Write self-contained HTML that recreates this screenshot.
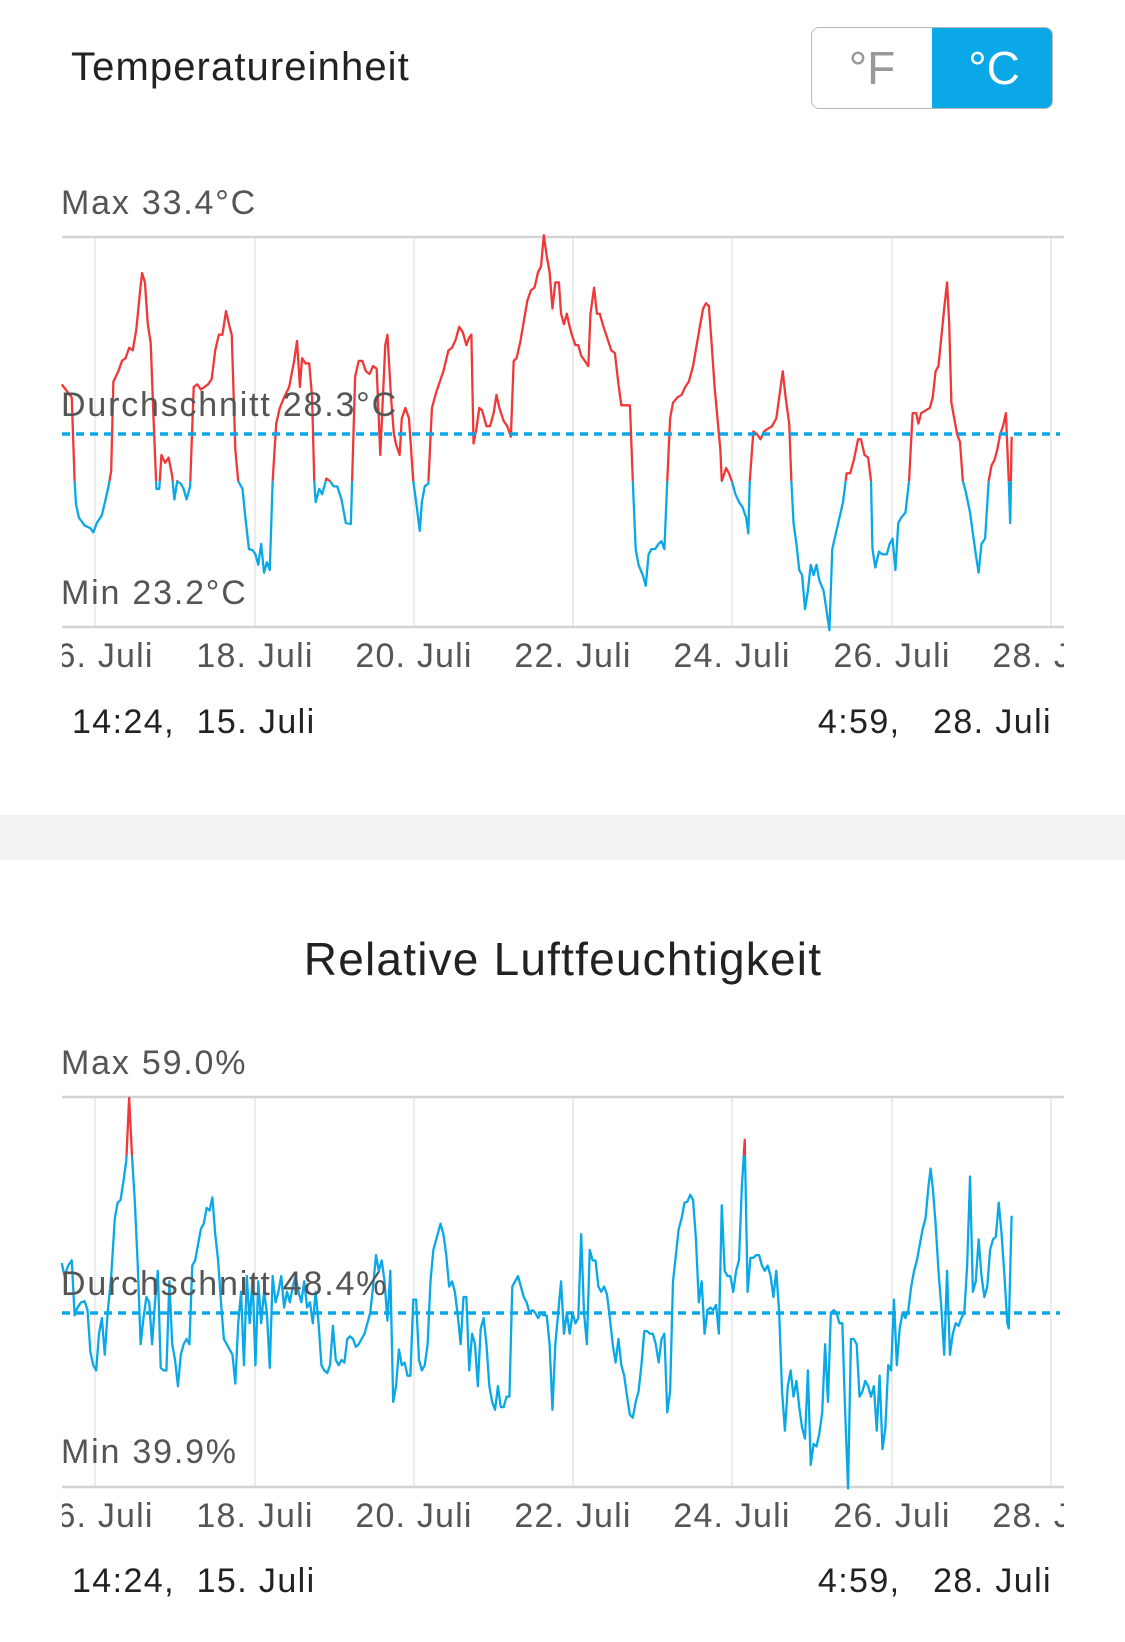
<!DOCTYPE html>
<html><head><meta charset="utf-8"><style>
body{margin:0;width:1125px;height:1642px;background:#fff;position:relative;overflow:hidden;font-family:"Liberation Sans",sans-serif;}
.t{position:absolute;white-space:nowrap;line-height:1;}
.g{color:#555;font-size:34px;letter-spacing:1.8px;}
.d{color:#222;font-size:34px;letter-spacing:1.4px;}
.xl{position:absolute;left:62px;width:1002px;height:40px;overflow:hidden;}
.xl span{position:absolute;top:0;transform:translateX(-50%);color:#555;font-size:34px;letter-spacing:1.2px;white-space:nowrap;line-height:40px;}
svg{position:absolute;left:0;}
</style></head><body>
<div class="t" style="left:71px;top:47px;font-size:40px;letter-spacing:1.1px;color:#222;">Temperatureinheit</div>
<div style="position:absolute;left:811px;top:27px;width:242px;height:82px;border:1px solid #bbb;border-radius:8px;overflow:hidden;box-sizing:border-box;">
<div style="position:absolute;left:0;top:0;width:120px;height:80px;color:#999;font-size:46px;line-height:80px;text-align:center;">°F</div>
<div style="position:absolute;left:120px;top:-1px;width:124px;height:84px;background:#0aa8e6;color:#fff;font-size:46px;line-height:82px;text-align:center;">°C</div>
</div>

<svg width="1125" height="1642" viewBox="0 0 1125 1642" style="top:0">
<g stroke="#e6e6e6" stroke-width="1.5">
<line x1="95" y1="237" x2="95" y2="627"/><line x1="255" y1="237" x2="255" y2="627"/><line x1="414" y1="237" x2="414" y2="627"/><line x1="573" y1="237" x2="573" y2="627"/><line x1="732" y1="237" x2="732" y2="627"/><line x1="892" y1="237" x2="892" y2="627"/><line x1="1051" y1="237" x2="1051" y2="627"/>
<line x1="95" y1="1097" x2="95" y2="1487"/><line x1="255" y1="1097" x2="255" y2="1487"/><line x1="414" y1="1097" x2="414" y2="1487"/><line x1="573" y1="1097" x2="573" y2="1487"/><line x1="732" y1="1097" x2="732" y2="1487"/><line x1="892" y1="1097" x2="892" y2="1487"/><line x1="1051" y1="1097" x2="1051" y2="1487"/>
</g>
<g stroke="#d4d4d4" stroke-width="2.5">
<line x1="62" y1="237" x2="1064" y2="237"/><line x1="62" y1="627" x2="1064" y2="627"/>
<line x1="62" y1="1097" x2="1064" y2="1097"/><line x1="62" y1="1487" x2="1064" y2="1487"/>
</g>
<rect x="0" y="815" width="1125" height="45" fill="#f2f2f2"/>
</svg>

<svg width="1125" height="820" viewBox="0 0 1568 1568" preserveAspectRatio="none" style="top:0">
<defs><clipPath id="ta"><rect x="0" y="0" width="1568" height="920"/></clipPath><clipPath id="tb"><rect x="0" y="920" width="1568" height="700"/></clipPath></defs>
<polyline id="tp" fill="none" stroke-width="2.3" vector-effect="non-scaling-stroke" stroke-linejoin="round" points="86,735 100,760 104,920 106,965 110,990 118,1005 126,1010 130,1018 135,1000 142,985 148,950 152,925 155,900 158,730 165,710 170,690 175,685 180,665 185,670 190,630 195,560 198,522 202,540 206,620 210,655 214,800 218,935 222,935 225,870 230,885 235,875 240,910 243,955 247,920 252,925 256,935 260,955 265,930 270,740 275,735 280,745 285,740 290,735 295,725 300,670 305,640 310,640 315,595 320,625 323,640 328,860 332,920 338,935 342,990 347,1050 352,1052 356,1060 360,1080 364,1040 368,1095 372,1075 376,1090 380,920 385,810 390,780 396,760 403,740 410,690 414,652 418,740 421,685 426,695 431,695 435,760 438,920 440,960 445,935 449,945 455,915 460,920 465,930 470,930 476,955 482,1000 489,1002 495,720 500,690 505,690 510,710 515,715 520,700 525,705 530,870 533,780 537,660 540,640 545,760 549,830 552,850 557,870 560,800 565,780 570,800 576,920 580,960 585,1015 588,960 592,930 597,925 602,780 608,750 613,730 618,710 625,670 630,665 635,650 640,625 645,635 650,660 654,645 657,640 660,848 664,820 668,780 672,785 678,815 683,815 688,790 692,755 696,780 702,805 707,815 712,835 716,690 720,685 725,655 730,615 735,575 740,555 745,550 750,520 754,510 758,450 762,490 766,520 770,590 774,540 779,540 782,600 786,620 790,600 794,625 797,640 802,660 806,660 810,680 815,690 820,700 823,600 828,550 832,600 836,600 840,620 846,645 852,670 857,675 862,735 866,775 878,775 882,920 886,1050 890,1080 896,1100 900,1120 904,1060 908,1050 913,1050 918,1040 922,1035 926,1050 930,920 934,800 938,770 944,760 950,755 955,740 960,730 966,700 971,660 976,620 980,590 984,580 988,585 992,660 996,740 1000,800 1004,860 1006,920 1012,895 1016,905 1020,920 1025,945 1030,960 1035,970 1040,990 1043,1020 1045,920 1050,825 1055,830 1060,840 1065,825 1070,820 1076,815 1082,800 1087,750 1091,710 1095,760 1100,810 1103,920 1106,1000 1110,1040 1114,1090 1118,1100 1122,1165 1126,1130 1130,1080 1134,1100 1138,1080 1142,1110 1148,1130 1156,1205 1160,1050 1165,1020 1170,990 1175,960 1180,905 1185,905 1190,880 1196,840 1200,840 1205,870 1210,875 1214,920 1216,1050 1220,1085 1225,1055 1230,1060 1236,1060 1240,1040 1244,1030 1248,1090 1252,1000 1256,990 1262,980 1267,920 1272,790 1277,790 1280,810 1284,790 1290,785 1296,780 1300,760 1304,710 1308,700 1312,645 1316,590 1320,540 1323,620 1326,770 1330,800 1334,830 1338,845 1342,920 1346,940 1352,980 1356,1020 1360,1060 1364,1095 1368,1040 1373,1030 1378,920 1382,890 1386,880 1390,860 1394,830 1398,815 1402,790 1406,920 1408,1000 1410,835"/>
<use href="#tp" stroke="#f03838" clip-path="url(#ta)"/>
<use href="#tp" stroke="#0aa8e6" clip-path="url(#tb)"/>
</svg>

<svg width="1125" height="822" viewBox="0 0 1568 1568" preserveAspectRatio="none" style="top:820px">
<defs><clipPath id="ha"><rect x="0" y="0" width="1568" height="640"/></clipPath><clipPath id="hb"><rect x="0" y="640" width="1568" height="928"/></clipPath></defs>
<polyline id="hp" fill="none" stroke-width="2.3" vector-effect="non-scaling-stroke" stroke-linejoin="round" points="86,845 90,870 95,850 100,840 104,945 108,930 113,920 118,918 122,935 126,1015 130,1040 134,1050 138,980 142,950 146,1020 150,940 155,870 160,760 164,730 168,725 172,690 176,650 180,530 184,640 188,730 192,850 196,1000 200,950 204,910 208,920 212,1000 216,920 220,860 224,1045 228,1050 232,1050 236,880 240,1000 244,1030 248,1080 252,1020 256,1000 260,990 264,1000 268,850 272,840 276,810 280,780 284,770 288,740 292,745 296,720 300,790 304,840 308,920 312,990 316,1000 320,1010 324,1020 328,1075 332,960 336,900 340,1040 344,870 348,960 352,870 356,1040 360,880 364,960 368,900 372,940 376,1045 380,870 384,920 388,900 392,870 396,930 400,900 404,920 408,890 412,870 416,900 420,920 424,880 428,930 432,920 436,960 440,900 444,960 448,1040 452,1050 456,1055 460,1040 464,965 468,1030 472,1040 476,1030 480,1035 484,990 488,985 492,990 496,1005 500,1000 504,990 508,980 512,960 516,940 520,890 524,830 528,860 532,840 536,880 540,955 544,860 548,1110 552,1080 556,1010 560,1040 564,1035 568,1060 572,1060 576,915 580,915 584,1030 588,1050 592,1040 596,1000 600,880 604,820 608,800 614,770 618,790 622,830 626,890 630,880 634,900 638,945 642,1000 646,910 650,910 654,1050 658,980 662,1000 666,1080 670,970 674,950 678,1000 682,1080 686,1110 690,1125 694,1080 698,1120 702,1120 706,1100 710,1100 714,890 718,880 722,870 726,890 730,910 734,920 738,940 742,935 746,940 750,950 754,940 758,945 762,945 766,1000 770,1125 774,1000 778,940 782,880 786,980 790,940 794,980 798,940 802,960 806,950 810,790 814,940 818,1000 822,820 826,840 830,840 834,890 838,900 842,890 846,905 850,950 854,1000 858,1035 862,990 866,1040 870,1060 874,1100 878,1135 882,1140 886,1110 890,1090 894,1040 898,975 902,975 906,980 910,980 914,1000 918,1035 922,990 926,980 930,1130 934,1090 938,880 942,830 946,780 950,760 954,730 958,728 962,715 966,725 970,800 974,920 978,880 982,980 986,935 990,930 994,935 998,925 1002,980 1006,735 1010,860 1014,870 1018,870 1022,900 1026,860 1030,840 1034,700 1038,610 1042,900 1046,835 1050,835 1054,830 1058,830 1062,850 1066,860 1070,850 1074,870 1078,910 1082,860 1086,940 1090,1090 1094,1165 1098,1080 1102,1050 1106,1100 1110,1070 1114,1120 1118,1160 1122,1180 1126,1050 1130,1230 1134,1190 1138,1195 1142,1170 1146,1130 1150,1000 1154,1110 1158,940 1162,935 1166,940 1170,960 1174,960 1178,1130 1182,1275 1186,990 1190,990 1194,1000 1198,1100 1202,1090 1206,1070 1210,1080 1214,1100 1218,1080 1222,1165 1226,1060 1230,1200 1234,1160 1238,1040 1242,1050 1246,915 1250,1040 1254,970 1258,940 1262,950 1266,935 1270,890 1274,860 1278,840 1282,810 1286,780 1290,760 1294,700 1297,665 1300,700 1304,770 1308,860 1312,930 1316,1020 1320,860 1324,1020 1328,980 1332,960 1336,965 1340,950 1344,940 1348,850 1352,680 1356,900 1360,880 1364,800 1368,870 1372,910 1376,890 1380,820 1384,800 1388,795 1392,730 1396,790 1400,870 1404,960 1406,970 1410,755"/>
<use href="#hp" stroke="#f03838" clip-path="url(#ha)"/>
<use href="#hp" stroke="#0aa8e6" clip-path="url(#hb)"/>
</svg>

<svg width="1125" height="1642" viewBox="0 0 1125 1642" style="top:0">
<g stroke="#0aa8e6" stroke-width="3.5" stroke-dasharray="8 6">
<line x1="62" y1="434" x2="1060" y2="434"/>
<line x1="62" y1="1313" x2="1060" y2="1313"/>
</g>
</svg>

<div class="t g" style="left:61px;top:186px;">Max 33.4°C</div>
<div class="t g" style="left:61px;top:388px;">Durchschnitt 28.3°C</div>
<div class="t g" style="left:61px;top:576px;">Min 23.2°C</div>
<div class="xl" style="top:636px;"><span style="left:33px">16. Juli</span><span style="left:193px">18. Juli</span><span style="left:352px">20. Juli</span><span style="left:511px">22. Juli</span><span style="left:670px">24. Juli</span><span style="left:830px">26. Juli</span><span style="left:989px">28. Juli</span></div>
<div class="t d" style="left:72px;top:705px;">14:24,&nbsp; 15. Juli</div>
<div class="t d" style="right:73px;top:705px;">4:59,&nbsp;&nbsp; 28. Juli</div>

<div class="t" style="left:563px;top:936px;transform:translateX(-50%);font-size:46px;letter-spacing:1.2px;color:#222;">Relative Luftfeuchtigkeit</div>
<div class="t g" style="left:61px;top:1046px;">Max 59.0%</div>
<div class="t g" style="left:61px;top:1267px;">Durchschnitt 48.4%</div>
<div class="t g" style="left:61px;top:1435px;">Min 39.9%</div>
<div class="xl" style="top:1496px;"><span style="left:33px">16. Juli</span><span style="left:193px">18. Juli</span><span style="left:352px">20. Juli</span><span style="left:511px">22. Juli</span><span style="left:670px">24. Juli</span><span style="left:830px">26. Juli</span><span style="left:989px">28. Juli</span></div>
<div class="t d" style="left:72px;top:1564px;">14:24,&nbsp; 15. Juli</div>
<div class="t d" style="right:73px;top:1564px;">4:59,&nbsp;&nbsp; 28. Juli</div>
</body></html>
